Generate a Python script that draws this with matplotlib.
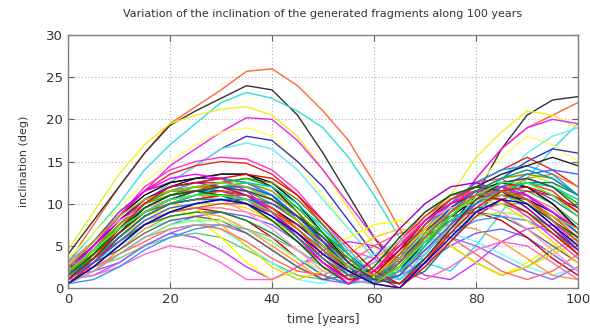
import matplotlib
matplotlib.use('agg')
import matplotlib.pyplot as plt

matplotlib.rc('font', family='DejaVu Sans', size=9)

# time axis, one value every 5 years
years = list(range(0, 101, 5))

# fragments with the largest inclination swing
upper_curves = [
    [3.0, 7.5, 12.0, 16.0, 19.5, 21.5, 23.5, 25.7, 26.0, 24.0, 21.0, 17.5, 12.5, 7.0, 3.0, 7.5, 13.0, 16.5, 19.0, 20.5, 22.0],
    [4.0, 8.0, 12.0, 16.0, 19.3, 21.0, 22.5, 24.0, 23.5, 20.5, 16.0, 11.0, 6.0, 2.0, 4.0, 7.5, 11.0, 16.5, 20.5, 22.3, 22.7],
    [3.0, 6.5, 10.0, 14.0, 17.0, 19.5, 22.0, 23.2, 22.5, 21.0, 19.0, 15.5, 11.0, 6.0, 3.0, 2.0, 5.0, 9.0, 13.0, 16.5, 19.5],
    [4.5, 9.0, 13.5, 17.0, 19.5, 20.5, 21.2, 21.5, 20.5, 18.0, 14.0, 9.5, 5.0, 2.0, 6.0, 11.0, 15.5, 18.5, 21.0, 20.5, 19.0],
    [2.5, 5.5, 8.5, 11.5, 14.5, 16.5, 18.5, 20.2, 20.0, 17.5, 14.0, 10.0, 6.0, 3.0, 5.0, 9.0, 13.0, 16.5, 19.0, 20.0, 19.5],
    [3.5, 6.5, 9.5, 12.5, 15.0, 17.0, 18.5, 19.0, 18.0, 15.0, 11.0, 7.0, 3.5, 1.5, 4.0, 8.0, 12.0, 15.5, 18.0, 17.0, 15.0],
    [2.0, 4.5, 7.0, 10.0, 12.5, 14.5, 16.5, 18.0, 17.5, 15.0, 12.0, 8.0, 4.0, 1.0, 3.5, 7.0, 10.0, 13.0, 15.0, 16.5, 16.0],
    [1.5, 4.0, 7.0, 10.0, 12.5, 14.5, 16.5, 17.2, 16.5, 14.0, 10.5, 7.0, 3.5, 1.0, 3.0, 6.5, 10.0, 13.0, 16.0, 18.0, 19.0],
    [2.0, 5.0, 8.5, 12.0, 14.0, 15.0, 15.5, 15.3, 14.0, 11.5, 8.0, 4.5, 1.5, 3.0, 6.5, 10.0, 12.5, 13.0, 11.0, 8.0, 5.0],
    [1.5, 5.0, 8.5, 11.5, 13.5, 14.5, 15.0, 14.8, 13.5, 11.0, 7.5, 4.0, 1.0, 3.5, 7.0, 10.0, 12.5, 14.0, 15.5, 14.0, 12.0],
]
upper_colors = ['#ff6633', '#333333', '#33dddd', '#eeee22', '#ee22ee',
                '#ffff66', '#3333cc', '#66eeee', '#ff33cc', '#ee2222']

# the bulk of the fragments
middle_curves = [
    [1.0, 4.0, 7.5, 10.0, 11.5, 12.0, 12.5, 13.0, 12.0, 9.5, 6.5, 3.5, 1.0, 2.5, 5.5, 8.5, 11.0, 12.5, 13.0, 12.0, 10.0],
    [2.0, 5.0, 8.0, 10.5, 12.0, 13.0, 13.5, 13.5, 12.0, 9.0, 5.5, 2.0, 1.5, 4.5, 8.0, 10.5, 12.0, 13.5, 14.5, 15.5, 14.5],
    [1.5, 3.5, 6.5, 9.0, 10.5, 11.5, 12.0, 12.0, 11.0, 8.5, 5.5, 2.5, 0.5, 3.0, 6.5, 9.5, 11.5, 12.0, 11.0, 9.0, 6.5],
    [1.0, 3.5, 6.5, 9.0, 10.5, 11.0, 11.5, 11.0, 9.5, 7.0, 4.0, 1.5, 2.0, 5.5, 8.5, 10.5, 11.5, 11.5, 10.5, 8.5, 6.0],
    [2.5, 5.0, 8.0, 10.5, 12.0, 12.5, 12.0, 11.0, 9.0, 6.0, 3.0, 1.0, 3.5, 7.0, 10.0, 12.0, 12.5, 11.5, 9.5, 7.0, 4.5],
    [1.5, 4.5, 7.5, 10.0, 11.0, 11.5, 12.0, 12.5, 11.5, 9.0, 6.0, 3.0, 0.5, 2.5, 6.0, 9.0, 11.5, 13.0, 13.5, 13.0, 11.0],
    [3.0, 5.5, 8.0, 9.5, 10.5, 11.0, 10.5, 9.0, 7.0, 4.5, 2.0, 1.0, 3.0, 5.5, 8.0, 9.5, 10.0, 9.0, 7.0, 4.5, 2.0],
    [1.0, 3.0, 6.0, 8.5, 10.0, 11.0, 12.0, 12.5, 12.0, 10.0, 7.0, 4.0, 1.0, 2.0, 5.0, 8.0, 10.0, 11.5, 12.5, 12.0, 10.5],
    [2.0, 4.5, 7.0, 9.0, 10.0, 10.5, 11.0, 11.0, 10.0, 8.0, 5.0, 2.0, 1.0, 4.0, 7.5, 10.5, 12.0, 12.0, 10.5, 8.0, 5.5],
    [0.5, 3.0, 6.0, 8.5, 10.0, 10.5, 11.0, 10.5, 9.0, 6.5, 3.5, 1.0, 1.5, 4.5, 8.0, 10.0, 11.0, 10.5, 9.0, 6.5, 4.0],
    [1.5, 4.0, 7.0, 9.5, 11.0, 11.5, 11.0, 10.0, 8.0, 5.5, 2.5, 0.5, 2.5, 6.0, 9.0, 11.0, 12.0, 11.5, 10.0, 8.0, 6.0],
    [2.0, 5.0, 8.5, 11.5, 13.0, 13.5, 13.0, 11.5, 9.0, 6.0, 3.0, 0.5, 2.0, 5.0, 8.0, 10.0, 11.5, 12.0, 11.0, 9.0, 7.0],
    [1.0, 3.0, 5.5, 8.0, 9.5, 10.0, 10.5, 10.5, 10.0, 8.5, 6.0, 3.0, 0.5, 1.5, 4.5, 7.5, 10.0, 12.0, 13.5, 14.0, 13.5],
    [2.5, 5.5, 8.5, 10.5, 11.5, 12.0, 12.5, 12.0, 10.5, 8.0, 5.0, 2.5, 1.5, 3.5, 6.5, 9.0, 10.5, 11.0, 10.0, 8.5, 7.0],
    [1.5, 3.5, 6.0, 8.5, 10.0, 10.5, 10.5, 10.0, 8.5, 6.0, 3.5, 1.5, 1.0, 3.0, 6.0, 9.0, 11.5, 13.0, 14.0, 13.0, 11.0],
    [1.0, 3.5, 6.5, 9.0, 10.5, 11.5, 12.0, 11.5, 10.5, 8.5, 6.0, 3.0, 1.0, 0.5, 3.5, 7.0, 10.5, 12.5, 13.0, 12.0, 9.5],
    [1.0, 3.5, 7.0, 10.0, 12.0, 12.5, 13.0, 13.5, 13.0, 11.0, 8.0, 5.0, 2.0, 0.5, 3.0, 6.5, 9.5, 11.5, 12.0, 11.0, 9.0],
    [2.0, 4.5, 7.0, 9.0, 10.5, 11.0, 11.0, 10.5, 9.0, 7.0, 4.5, 2.0, 0.5, 2.5, 5.5, 8.5, 11.0, 12.5, 12.5, 11.0, 8.5],
    [0.5, 2.5, 5.0, 7.5, 9.0, 9.5, 10.0, 10.0, 9.0, 7.0, 4.5, 2.0, 0.5, 3.0, 6.0, 9.0, 11.0, 11.5, 10.5, 8.0, 5.5],
    [0.5, 2.5, 5.0, 7.5, 9.0, 10.0, 10.5, 10.0, 8.5, 6.5, 4.0, 2.0, 0.5, 0.0, 3.0, 6.0, 9.0, 10.5, 10.0, 7.5, 5.0],
]
middle_colors = ['#00cc00', '#222222', '#2255ee', '#ff4400', '#9900cc',
                 '#999900', '#ff99cc', '#00cccc', '#996633', '#ff0000',
                 '#006600', '#ff00ff', '#3366ff', '#99cc00', '#009999',
                 '#444444', '#dd1111', '#33ff33', '#cc6633', '#0000cc']

# more fragments of the main band
extra_curves = [
    [1.0, 4.0, 7.5, 10.5, 12.0, 12.5, 12.5, 12.0, 10.5, 8.5, 5.5, 2.5, 0.5, 3.5, 7.5, 10.5, 12.0, 12.0, 10.5, 8.0, 5.5],
    [2.0, 4.5, 7.0, 9.5, 11.0, 12.0, 12.0, 11.5, 10.0, 8.0, 5.5, 3.0, 1.0, 1.5, 5.0, 8.5, 11.0, 12.0, 11.5, 10.0, 7.5],
    [1.5, 4.0, 7.0, 9.5, 10.5, 11.0, 11.0, 10.5, 9.5, 7.5, 5.0, 2.0, 0.5, 2.0, 6.0, 9.5, 11.5, 12.5, 12.0, 10.5, 8.5],
    [0.5, 3.0, 6.0, 8.5, 10.0, 11.0, 11.5, 11.5, 10.5, 8.5, 6.0, 3.5, 1.0, 0.5, 2.5, 6.0, 9.0, 11.5, 13.0, 13.5, 12.0],
    [2.5, 5.5, 9.0, 11.5, 12.5, 13.0, 13.0, 12.5, 11.0, 8.0, 4.5, 1.5, 1.0, 4.0, 7.5, 10.0, 11.5, 11.5, 10.0, 7.5, 4.5],
    [1.0, 3.5, 6.5, 9.0, 10.0, 10.5, 11.0, 11.5, 11.0, 9.5, 7.5, 4.5, 1.5, 1.0, 4.0, 7.5, 10.5, 12.0, 12.5, 11.5, 9.0],
    [2.0, 5.0, 8.0, 10.0, 11.0, 11.5, 11.5, 10.5, 8.5, 6.0, 3.5, 1.0, 2.0, 5.5, 9.0, 11.0, 11.5, 10.5, 8.5, 6.0, 3.5],
    [1.5, 4.0, 7.5, 10.0, 11.5, 12.0, 12.5, 12.5, 11.5, 9.0, 6.0, 3.0, 1.0, 2.5, 6.0, 9.0, 11.5, 13.0, 13.5, 12.5, 10.0],
    [1.0, 3.0, 5.5, 8.0, 9.0, 9.5, 9.5, 9.0, 8.0, 6.5, 4.5, 2.5, 0.5, 1.5, 4.5, 7.5, 10.0, 11.0, 11.0, 9.5, 7.0],
    [3.0, 5.5, 8.5, 11.0, 12.5, 13.0, 13.5, 13.5, 12.5, 10.0, 6.5, 3.0, 0.5, 3.0, 6.5, 9.5, 11.5, 12.5, 12.0, 10.0, 7.0],
    [0.5, 2.5, 5.0, 7.5, 9.0, 10.0, 10.5, 10.5, 10.0, 8.5, 6.5, 4.0, 1.5, 0.5, 2.0, 5.5, 9.0, 11.5, 12.5, 12.5, 11.0],
    [1.5, 4.5, 8.0, 10.5, 11.5, 11.5, 11.0, 10.0, 8.0, 5.5, 3.0, 1.0, 2.0, 5.0, 8.5, 11.0, 12.0, 11.5, 9.5, 7.0, 4.0],
    [2.0, 4.0, 6.5, 9.0, 10.5, 11.5, 12.5, 13.0, 12.5, 10.5, 7.5, 4.0, 1.0, 1.5, 5.0, 8.5, 10.5, 11.5, 11.0, 9.0, 6.5],
    [1.0, 3.5, 6.5, 9.5, 11.0, 11.5, 11.5, 11.0, 9.5, 7.5, 5.0, 2.5, 0.5, 2.0, 5.5, 8.5, 10.5, 11.0, 10.5, 9.0, 7.0],
    [0.5, 2.0, 4.0, 6.0, 7.0, 7.5, 7.5, 7.0, 6.0, 4.5, 2.5, 1.0, 0.5, 2.0, 4.5, 7.0, 9.0, 10.0, 10.0, 8.5, 6.5],
    [2.5, 5.0, 8.0, 10.5, 11.5, 12.0, 12.0, 11.0, 9.5, 7.0, 4.5, 2.0, 0.5, 0.0, 3.0, 7.0, 10.0, 12.0, 12.5, 11.5, 9.0],
    [1.0, 3.0, 6.0, 8.5, 10.0, 11.0, 12.0, 12.0, 11.0, 8.5, 5.5, 2.5, 0.5, 2.5, 6.0, 9.0, 10.5, 10.5, 9.0, 6.5, 4.0],
    [2.0, 4.5, 7.5, 10.0, 11.5, 12.5, 13.0, 12.5, 11.0, 8.0, 4.5, 1.5, 1.0, 3.5, 7.0, 10.0, 12.5, 14.0, 14.5, 13.5, 11.0],
    [1.5, 3.5, 6.0, 8.0, 9.5, 10.0, 10.0, 9.5, 8.0, 6.0, 3.5, 1.0, 1.5, 4.0, 7.0, 9.5, 10.5, 10.0, 8.0, 5.5, 3.0],
    [1.0, 3.0, 6.0, 8.5, 10.0, 10.5, 10.5, 10.0, 9.0, 7.5, 5.5, 3.5, 1.5, 0.0, 2.5, 5.5, 8.5, 10.5, 11.5, 11.0, 9.5],
]
extra_colors = ['#e6194b', '#3cb44b', '#4363d8', '#f58231', '#911eb4',
                '#42d4f4', '#f032e6', '#bfef45', '#ff7f7f', '#000000',
                '#008080', '#9a6324', '#808000', '#000075', '#a9a9a9',
                '#ff4500', '#32cd32', '#1e90ff', '#ffd700', '#dc143c']

# fragments with small inclination
lower_curves = [
    [0.5, 2.0, 4.0, 6.0, 7.5, 8.5, 9.0, 8.5, 7.5, 5.5, 3.0, 1.0, 0.5, 1.5, 3.0, 5.0, 6.5, 7.0, 6.0, 4.0, 2.0],
    [1.5, 2.0, 3.0, 5.0, 6.5, 6.0, 4.5, 2.5, 1.0, 2.5, 4.5, 5.5, 5.0, 3.5, 1.5, 1.0, 3.0, 5.5, 7.0, 7.5, 6.0],
    [2.0, 2.5, 3.5, 5.0, 6.0, 6.5, 6.0, 4.5, 3.0, 1.5, 1.0, 2.5, 4.0, 5.5, 6.0, 5.0, 3.0, 1.5, 2.5, 4.5, 6.0],
    [3.0, 4.5, 6.5, 8.5, 9.5, 8.5, 6.0, 3.0, 1.0, 2.0, 4.0, 6.0, 7.5, 8.0, 7.0, 5.0, 3.0, 1.5, 3.0, 5.0, 6.5],
    [1.5, 3.0, 5.0, 7.0, 8.0, 8.0, 7.0, 5.0, 3.0, 1.0, 0.5, 2.0, 4.0, 5.5, 6.5, 6.5, 5.5, 4.0, 2.5, 1.5, 2.5],
    [0.5, 2.0, 4.5, 7.0, 8.5, 9.0, 8.5, 7.0, 5.0, 3.0, 1.0, 1.5, 3.5, 5.5, 7.0, 7.5, 7.0, 5.5, 3.5, 1.5, 1.0],
    [1.0, 1.5, 3.0, 5.0, 6.5, 7.5, 7.5, 6.5, 4.5, 2.5, 1.0, 0.5, 2.0, 4.0, 5.5, 6.0, 5.0, 3.5, 2.0, 1.0, 2.5],
    [2.5, 3.5, 5.5, 7.5, 9.0, 9.5, 9.0, 8.0, 6.0, 3.5, 1.5, 0.5, 2.0, 4.5, 7.0, 8.5, 9.0, 8.0, 6.0, 3.5, 1.5],
    [1.0, 1.5, 2.5, 4.0, 5.0, 4.5, 3.0, 1.0, 1.0, 2.5, 4.0, 4.5, 3.5, 2.0, 1.0, 2.5, 4.5, 5.5, 5.0, 3.0, 1.0],
    [1.5, 3.0, 5.5, 7.5, 8.5, 9.0, 9.0, 8.0, 6.5, 4.5, 2.5, 1.0, 1.5, 3.5, 6.0, 8.0, 9.5, 10.0, 9.0, 7.0, 4.5],
    [2.0, 3.0, 4.5, 6.5, 8.0, 8.5, 8.0, 6.5, 4.5, 2.5, 1.0, 1.5, 3.0, 5.0, 7.0, 8.5, 9.0, 8.5, 7.0, 5.0, 3.0],
    [0.5, 1.0, 2.5, 4.5, 6.0, 7.0, 7.5, 7.0, 5.5, 3.5, 1.5, 0.5, 1.0, 2.5, 4.5, 6.5, 8.0, 8.5, 8.0, 6.5, 4.5],
    [2.0, 4.0, 6.5, 9.0, 10.0, 9.5, 7.5, 5.0, 2.5, 1.0, 2.0, 4.0, 6.0, 7.0, 6.5, 5.0, 3.0, 1.5, 2.5, 4.0, 5.5],
    [0.5, 2.0, 4.0, 6.0, 7.5, 8.0, 8.0, 7.0, 5.5, 3.5, 2.0, 1.0, 1.5, 3.0, 5.0, 7.0, 8.5, 9.0, 8.5, 7.0, 5.0],
    [1.5, 2.5, 4.0, 5.5, 7.0, 7.5, 7.0, 5.5, 3.5, 2.0, 1.5, 3.0, 5.0, 6.5, 7.0, 6.0, 4.0, 2.0, 1.0, 2.0, 4.0],
]
lower_colors = ['#6666ff', '#cc33ff', '#66cc66', '#ffff00', '#66ffff',
                '#ff9933', '#9966ff', '#cc0000', '#ff66cc', '#009933',
                '#666666', '#3399ff', '#ffcc00', '#99ff66', '#ff6666']

title = 'Variation of the inclination of the generated fragments along 100 years'

fig = plt.figure(figsize=(5.9, 3.28), dpi=100)
ax = fig.add_axes([0.1153, 0.122, 0.8644, 0.771])

for curves, colors in ((upper_curves, upper_colors),
                       (lower_curves, lower_colors),
                       (extra_curves, extra_colors),
                       (middle_curves, middle_colors)):
    for vals, c in zip(curves, colors):
        ax.plot(years, vals, color=c, lw=1.0)

ax.set_xlim(0, 100)
ax.set_ylim(0, 30)
ax.set_xticks(range(0, 101, 20))
ax.set_yticks(range(0, 31, 5))
ax.grid(True, ls=(0, (1, 2)), color='#b0b0b0', lw=0.8)
ax.tick_params(direction='in', length=4, color='#606060', labelcolor='#333333',
               top=True, right=True, labelsize=9.5)
for s in ax.spines.values():
    s.set_color('#808080')
    s.set_linewidth(1.0)

ax.set_title(title, fontsize=8, color='#333333', pad=13)
ax.set_xlabel('time [years]', fontsize=8.5, color='#333333', labelpad=5)
ax.set_ylabel('inclination (deg)', fontsize=8, color='#333333', labelpad=12)

plt.savefig('out.png', dpi=100)
plt.close()
